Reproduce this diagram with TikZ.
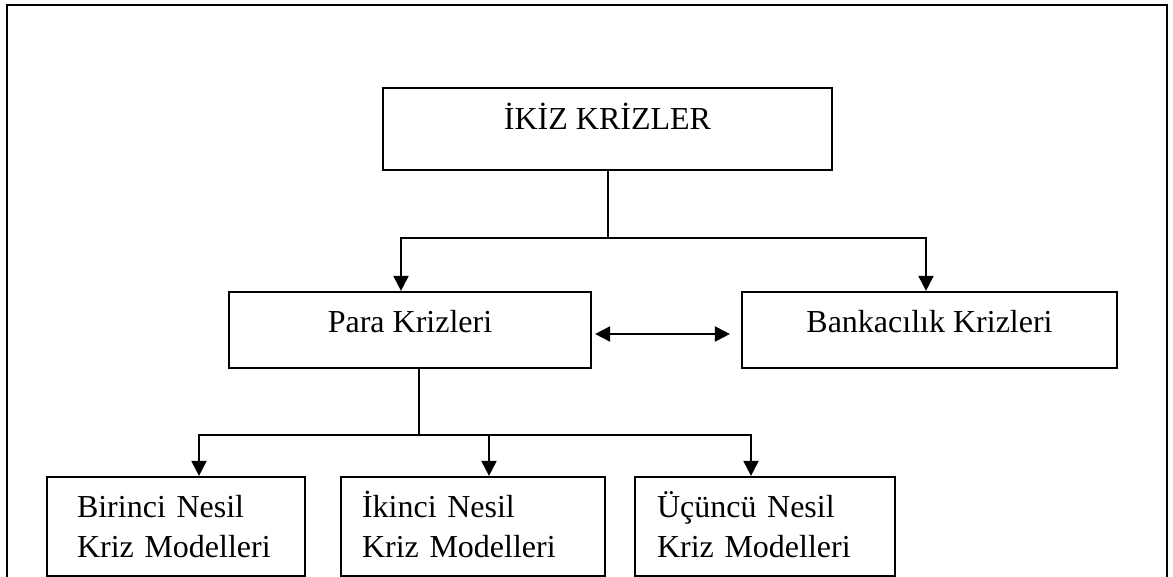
\documentclass[tikz,border=0pt]{standalone}
\usepackage{fontspec}
\setmainfont{Liberation Serif}
\usetikzlibrary{arrows.meta}
\tikzset{
  krizbox/.style={draw, line width=1.1pt, inner xsep=0pt, inner ysep=0pt, font=\fontsize{16}{20}\selectfont},
  modelbox/.style={krizbox, align=left, text height=20pt, text depth=29.5pt},
  okline/.style={line width=1pt},
  ok/.style={okline, -{Triangle[length=7.5pt,width=7.5pt]}}
}

\begin{document}
\begin{tikzpicture}[x=0.5pt, y=-0.5pt]
\useasboundingbox (0,0) rectangle (1173,577);
\draw[line width=1.3pt] (7,577) -- (7,5) -- (1167,5) -- (1167,577);

\node[krizbox, minimum width=224.5pt, text height=21pt, text depth=20pt] (ikiz) at (607.5,129) {İKİZ KRİZLER};
\node[krizbox, minimum width=181pt, text height=20.5pt, text depth=17.5pt] (para) at (410,330) {Para Krizleri};
\node[krizbox, minimum width=187.5pt, text height=20.5pt, text depth=17.5pt] (bank) at (929.5,330) {Bankacılık Krizleri};

\node[modelbox, text width=99pt, inner xsep=15pt] (birinci) at (176,526.5) {Birinci Nesil\\Kriz Modelleri};
\node[modelbox, text width=111pt, inner xsep=10.5pt] (ikinci) at (473,526.5) {İkinci Nesil\\Kriz Modelleri};
\node[modelbox, text width=108pt, inner xsep=11pt] (ucuncu) at (765,526.5) {Üçüncü Nesil\\Kriz Modelleri};

% ikiz krizler -> para / bankacilik
\coordinate (topjoin) at ([yshift=-33.5pt]ikiz.south);
\draw[okline] (ikiz.south) -- (topjoin);
\draw[ok] (topjoin) -| ([xshift=-4.5pt]para.north);
\draw[ok] (topjoin) -| ([xshift=-1.75pt]bank.north);
\draw[okline, {Triangle[length=7.5pt,width=7.5pt]}-{Triangle[length=7.5pt,width=7.5pt]}] ([xshift=1.5pt,yshift=-2pt]para.east) -- ([xshift=-5.5pt,yshift=-2pt]bank.west);

% para krizleri -> nesiller
\coordinate (parajoin) at ([xshift=4.5pt,yshift=-33pt]para.south);
\draw[okline] ([xshift=4.5pt]para.south) -- (parajoin);
\draw[ok] (parajoin) -| ([xshift=11.5pt]birinci.north);
\draw[ok] (parajoin) -| ([xshift=8pt]ikinci.north);
\draw[ok] (parajoin) -| ([xshift=-7pt]ucuncu.north);
\end{tikzpicture}
\end{document}
